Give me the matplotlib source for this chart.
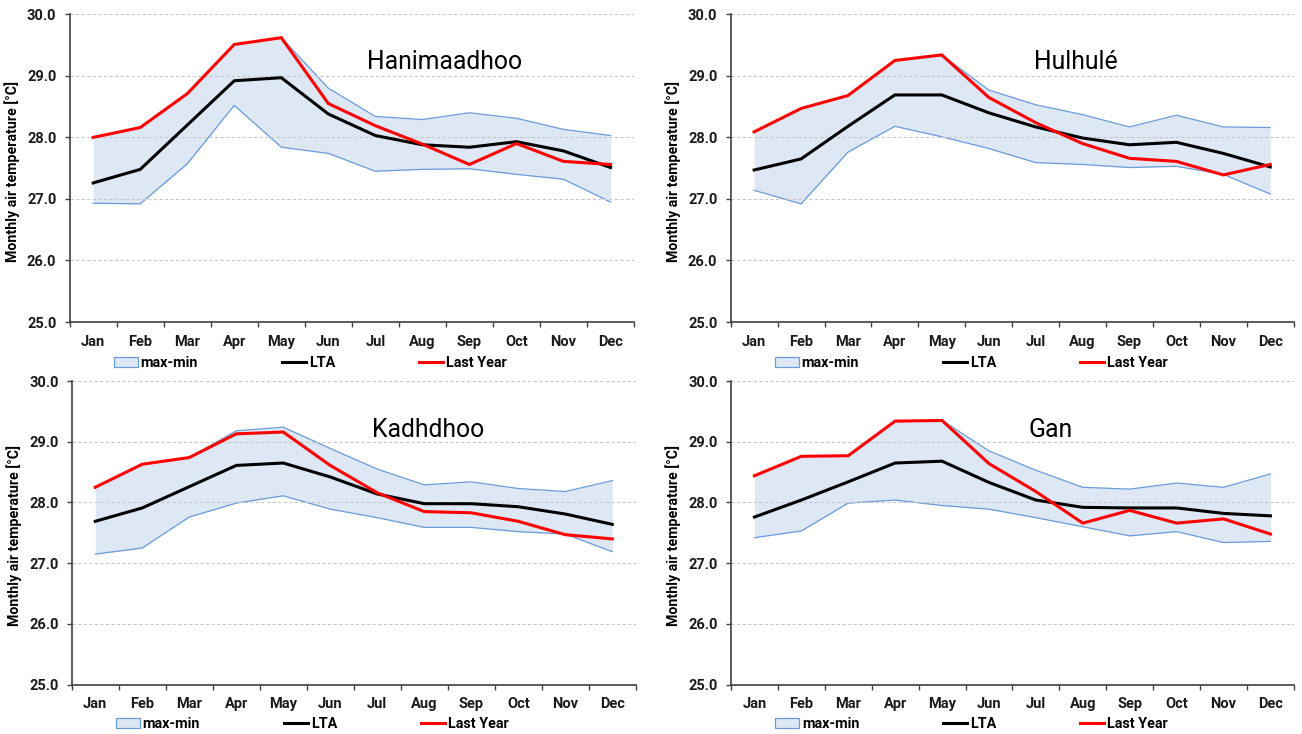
import numpy as np
import matplotlib
matplotlib.use('Agg')
import matplotlib.pyplot as plt
from matplotlib.patches import Patch
from matplotlib.lines import Line2D

plt.rcParams['font.family'] = ['Roboto', 'DejaVu Sans']

MONTHS = ['Jan', 'Feb', 'Mar', 'Apr', 'May', 'Jun', 'Jul', 'Aug', 'Sep', 'Oct', 'Nov', 'Dec']
STATIONS = ['Hanimaadhoo', 'Hulhulé', 'Kadhdhoo', 'Gan']

# monthly air temperature [°C]
han_max = [28.00, 28.16, 28.71, 29.51, 29.62, 28.80, 28.34, 28.29, 28.40, 28.31, 28.13, 28.03]
han_min = [26.93, 26.92, 27.57, 28.52, 27.84, 27.74, 27.45, 27.48, 27.49, 27.40, 27.32, 26.95]
han_lta = [27.26, 27.48, 28.20, 28.92, 28.97, 28.38, 28.03, 27.88, 27.84, 27.93, 27.78, 27.51]
han_last = [28.00, 28.16, 28.71, 29.51, 29.62, 28.55, 28.19, 27.89, 27.56, 27.90, 27.61, 27.56]

hul_max = [28.09, 28.47, 28.68, 29.25, 29.34, 28.77, 28.53, 28.37, 28.17, 28.36, 28.17, 28.16]
hul_min = [27.14, 26.92, 27.76, 28.18, 28.01, 27.82, 27.59, 27.56, 27.51, 27.53, 27.40, 27.08]
hul_lta = [27.47, 27.65, 28.18, 28.69, 28.69, 28.40, 28.17, 27.99, 27.88, 27.92, 27.74, 27.52]
hul_last = [28.09, 28.47, 28.68, 29.25, 29.34, 28.65, 28.24, 27.90, 27.66, 27.61, 27.39, 27.56]

kad_max = [28.25, 28.63, 28.74, 29.18, 29.24, 28.89, 28.55, 28.29, 28.34, 28.23, 28.18, 28.36]
kad_min = [27.15, 27.25, 27.76, 27.99, 28.11, 27.89, 27.75, 27.59, 27.59, 27.52, 27.48, 27.19]
kad_lta = [27.69, 27.91, 28.26, 28.61, 28.65, 28.42, 28.14, 27.98, 27.98, 27.93, 27.81, 27.64]
kad_last = [28.25, 28.63, 28.74, 29.13, 29.16, 28.61, 28.16, 27.85, 27.83, 27.69, 27.47, 27.40]

gan_max = [28.44, 28.76, 28.77, 29.34, 29.35, 28.85, 28.53, 28.25, 28.22, 28.32, 28.25, 28.47]
gan_min = [27.42, 27.53, 27.99, 28.04, 27.95, 27.89, 27.75, 27.60, 27.45, 27.52, 27.34, 27.36]
gan_lta = [27.76, 28.04, 28.34, 28.65, 28.68, 28.33, 28.04, 27.92, 27.91, 27.91, 27.82, 27.78]
gan_last = [28.44, 28.76, 28.77, 29.34, 29.35, 28.64, 28.18, 27.66, 27.87, 27.66, 27.73, 27.48]

DATA = [(han_max, han_min, han_lta, han_last),
        (hul_max, hul_min, hul_lta, hul_last),
        (kad_max, kad_min, kad_lta, kad_last),
        (gan_max, gan_min, gan_lta, gan_last)]

# axes rectangles in figure fraction, and station-name position in axes fraction
RECTS = [[0.0535, 0.5613, 0.4335, 0.4192],
         [0.5612, 0.5613, 0.4324, 0.4192],
         [0.0551, 0.0672, 0.4332, 0.4137],
         [0.5614, 0.0672, 0.4324, 0.4137]]
NAME_POS = [(0.665, 0.845), (0.613, 0.845), (0.631, 0.839), (0.568, 0.839)]

FILL = '#dee8f5'
EDGE = '#6a9bd8'
AXC = '#404040'

fig = plt.figure(figsize=(13.02, 7.34), dpi=100)
x = np.arange(len(MONTHS))

for i, (mx, mn, lta, last) in enumerate(DATA):
    ax = fig.add_axes(RECTS[i])
    ax.fill_between(x, mn, mx, color=FILL, lw=0, zorder=1)
    ax.plot(x, mx, color=EDGE, lw=0.9, zorder=2)
    ax.plot(x, mn, color=EDGE, lw=0.9, zorder=2)
    ax.plot(x, lta, color='black', lw=2.2, zorder=3, solid_joinstyle='miter')
    ax.plot(x, last, color='#ff0000', lw=2.2, zorder=4, solid_joinstyle='miter')

    ax.set_xlim(-0.5, 11.5)
    ax.set_ylim(25, 30)
    ax.set_yticks(np.arange(25, 30.1, 1))
    ax.set_yticklabels([f'{v:.1f}' for v in np.arange(25, 30.1, 1)])
    ax.set_xticks(x)
    ax.set_xticklabels(MONTHS)
    ax.set_xticks(np.arange(-0.5, 12, 1), minor=True)
    ax.tick_params(axis='x', which='major', length=0, pad=9)
    ax.tick_params(axis='x', which='minor', length=3.5, color=AXC, width=1)
    ax.tick_params(axis='y', length=3.5, color=AXC, width=1, pad=6)
    for lab in ax.get_xticklabels() + ax.get_yticklabels():
        lab.set_fontweight('bold')
        lab.set_fontsize(10.5)
        lab.set_color('#1a1a1a')

    ax.set_axisbelow(False)
    ax.yaxis.grid(True, color='#c8c8c8', ls=(0, (3, 2)), lw=0.8)
    for s in ['top', 'right']:
        ax.spines[s].set_visible(False)
    for s in ['left', 'bottom']:
        ax.spines[s].set_color(AXC)
        ax.spines[s].set_linewidth(1.2)
        ax.spines[s].set_zorder(5)

    ax.set_ylabel('Monthly air temperature [°C]', fontsize=10.2, fontweight='bold')
    ax.yaxis.set_label_coords(-0.088, 0.49)

    ax.text(NAME_POS[i][0], NAME_POS[i][1], STATIONS[i], transform=ax.transAxes,
            ha='center', va='center', fontsize=17.8, color='black')

    handles = [Patch(facecolor=FILL, edgecolor=EDGE, lw=0.9),
               Line2D([], [], color='black', lw=2.2),
               Line2D([], [], color='#ff0000', lw=2.2)]
    ly = -0.132 if i < 2 else -0.130
    ax.legend(handles, ['max-min', 'LTA', 'Last Year'], ncol=3, frameon=False,
              loc='center left', bbox_to_anchor=(0.078, ly),
              borderaxespad=0, borderpad=0, handlelength=1.67, handleheight=0.7,
              handletextpad=0.2, columnspacing=5.8,
              prop={'weight': 'bold', 'size': 10.4})

fig.savefig('out.png', dpi=100)
